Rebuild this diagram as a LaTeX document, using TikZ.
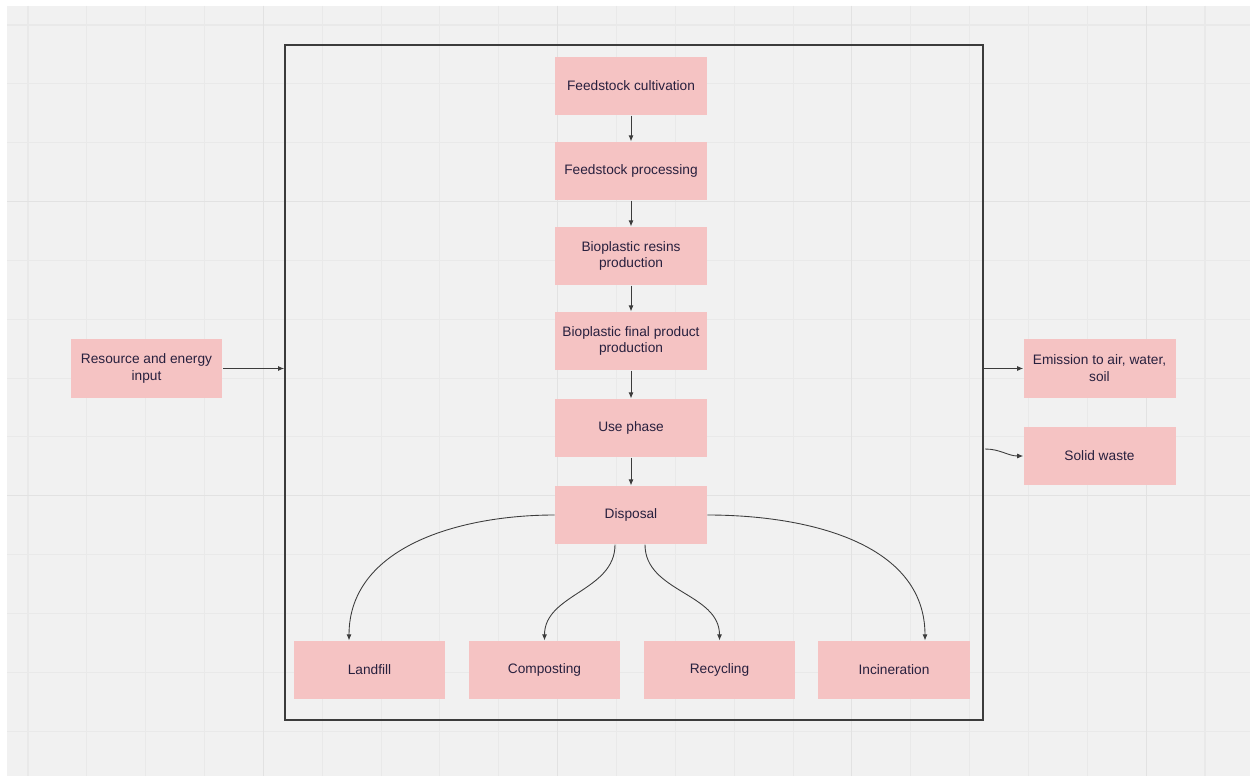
\documentclass[tikz,border=0pt]{standalone}
\usepackage{fontspec}
\setmainfont{Liberation Sans}
\usepackage{tikz}
\usetikzlibrary{arrows.meta,positioning}
\usepackage{xcolor}
\definecolor{boxpink}{RGB}{245,195,195}
\definecolor{boxtext}{RGB}{40,32,62}
\definecolor{canvas}{RGB}{241,241,241}
\definecolor{gridline}{RGB}{233,233,233}
\definecolor{gridmajor}{RGB}{226,226,226}
\definecolor{linegray}{RGB}{60,60,60}

\begin{document}
\begin{tikzpicture}[x=0.02cm,y=-0.02cm,
  stage/.style={fill=boxpink,text=boxtext,minimum width=3.04cm,
    minimum height=1.17cm,inner sep=0pt,align=center,
    font=\fontsize{7.8pt}{9.6pt}\selectfont},
  frameline/.style={draw=linegray,line width=1.1pt,minimum width=13.96cm,
    minimum height=13.5cm,inner sep=0pt},
  arr/.style={-{Latex[length=1.2mm,width=1mm]},draw=linegray,line width=0.5pt}
]
\useasboundingbox (0,0) rectangle (1250,776);
\fill[white] (0,0) rectangle (1250,776);
\fill[canvas] (7,6) rectangle (1250,776);
\foreach \i in {0,...,20}
  \draw[gridline,line width=0.6pt] ({28+58.85*\i},6) -- ({28+58.85*\i},776);
\foreach \i in {0,...,12}
  \draw[gridline,line width=0.6pt] (7,{25+58.85*\i}) -- (1250,{25+58.85*\i});
\foreach \i in {4,9,14,19}
  \draw[gridmajor,line width=0.6pt] ({28+58.85*\i},6) -- ({28+58.85*\i},776);
\foreach \i in {3,8}
  \draw[gridmajor,line width=0.6pt] (7,{25+58.85*\i}) -- (1250,{25+58.85*\i});

\node[frameline] (frame) at (634,382.5) {};

% life cycle stages
\node[stage] (cult) at (631,86) {Feedstock cultivation};
\node[stage] (proc) at (631,171) {Feedstock processing};
\node[stage] (resin) at (631,256) {Bioplastic resins\\production};
\node[stage] (prod) at (631,341) {Bioplastic final product\\production};
\node[stage] (use) at (631,428) {Use phase};
\node[stage] (disp) at (631,515) {Disposal};

% end of life
\node[stage] (land) at (369.5,670) {Landfill};
\node[stage] (comp) at (544.5,670) {Composting};
\node[stage] (recy) at (719.5,670) {Recycling};
\node[stage] (inci) at (894,670) {Incineration};

% inputs and outputs
\node[stage] (res) at (146.5,368.5) {Resource and energy\\input};
\node[stage] (emis) at (1099.5,368.5) {Emission to air, water,\\soil};
\node[stage] (waste) at (1099.5,456) {Solid waste};

\coordinate (landin) at ([xshift=-0.41cm]land.north);
\coordinate (compout) at ([xshift=-0.32cm]disp.south);
\coordinate (recyout) at ([xshift=0.28cm]disp.south);
\coordinate (inciin) at ([xshift=0.62cm]inci.north);
\coordinate (wasteout) at (985,449);

\draw[arr] (cult) -- (proc);
\draw[arr] (proc) -- (resin);
\draw[arr] (resin) -- (prod);
\draw[arr] (prod) -- (use);
\draw[arr] (use) -- (disp);

\draw[arr] (disp.west) to[out=180,in=90] (landin);
\draw[arr] (compout) to[out=-90,in=90] (comp.north);
\draw[arr] (recyout) to[out=-90,in=90] (recy.north);
\draw[arr] (disp.east) to[out=0,in=90] (inciin);

\draw[arr] (res) -- (res -| frame.west);
\draw[arr] (emis -| frame.east) -- (emis);
\draw[arr] (wasteout) to[out=0,in=180] (waste.west);
\end{tikzpicture}
\end{document}
